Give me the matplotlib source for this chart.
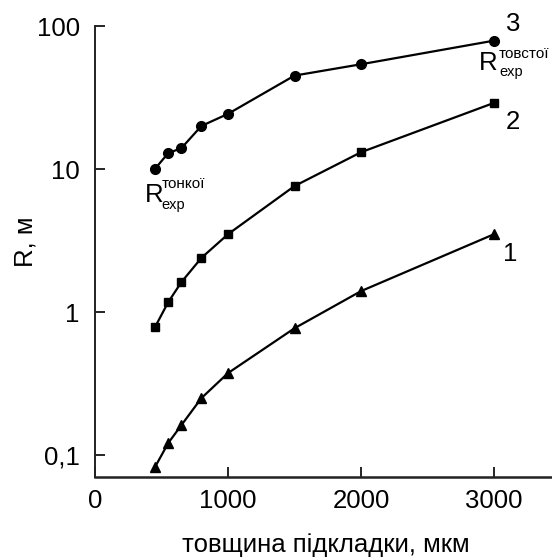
import matplotlib
matplotlib.use("Agg")
import matplotlib.pyplot as plt
from matplotlib.ticker import FixedLocator, NullLocator

plt.rcParams['font.family'] = ['Liberation Sans', 'DejaVu Sans']

x = [450, 550, 650, 800, 1000, 1500, 2000, 3000]
r3 = [10.0, 12.9, 14.0, 20.0, 24.3, 45.0, 54.0, 79.0]
r2 = [0.78, 1.17, 1.62, 2.39, 3.5, 7.6, 13.1, 29.0]
r1 = [0.082, 0.121, 0.162, 0.25, 0.374, 0.77, 1.40, 3.5]

yticks = [0.1, 1, 10, 100]
yticklabels = ['0,1', '1', '10', '100']
xticks = [0, 1000, 2000, 3000]

FS = 18.5
PX = 0.72  # points per pixel at dpi 100

fig = plt.figure(figsize=(5.52, 5.57), dpi=100)
ax = fig.add_axes([95/552, 1-477/557, (552-95)/552, (477-26)/557])

ax.plot(x, r3, '-o', color='black', lw=1.6, ms=7, clip_on=False)
ax.plot(x, r2, '-s', color='black', lw=1.6, ms=5.8, clip_on=False)
ax.plot(x, r1, '-^', color='black', lw=1.6, ms=7.5, clip_on=False)

ax.set_yscale('log')
ax.set_xlim(0, 3436)
ax.set_ylim(0.0702, 100)
ax.yaxis.set_major_locator(FixedLocator(yticks))
ax.yaxis.set_minor_locator(NullLocator())
ax.set_yticklabels(yticklabels)
ax.set_xticks(xticks)
ax.set_xticklabels([str(v) for v in xticks])

for s in ['top', 'right']:
    ax.spines[s].set_visible(False)
ax.spines['left'].set_linewidth(1.4)
ax.spines['bottom'].set_linewidth(1.8)
for s in ['left', 'bottom']:
    ax.spines[s].set_color('#222222')
ax.tick_params(direction='in', length=7, width=1.2, labelsize=FS)
ax.tick_params(axis='y', pad=11)
ax.tick_params(axis='x', pad=9)

ax.set_xlabel('товщина підкладки, мкм', fontsize=FS)
ax.set_ylabel('R, м', fontsize=FS)
ax.xaxis.set_label_coords((325.5-95)/457, (477-533)/451)
ax.yaxis.set_label_coords((37-95)/457, (477-242)/451)

def lbl(xv, yv, dx, dy, s, fs, ha='left', va='baseline'):
    ax.annotate(s, xy=(xv, yv), xytext=(dx*PX, dy*PX), textcoords='offset points',
                fontsize=fs, ha=ha, va=va, annotation_clip=False)

# curve numbers
lbl(x[-1], r3[-1], 19, 17, '3', FS, ha='center', va='center')
lbl(x[-1], r2[-1], 19, -19, '2', FS, ha='center', va='center')
lbl(x[-1], r1[-1], 16, -20, '1', FS, ha='center', va='center')

# R_exp^тонкої near first point of curve 3
lbl(x[0], r3[0], -10, -33, 'R', FS)
lbl(x[0], r3[0], 7, -19, 'тонкої', 11)
lbl(x[0], r3[0], 7, -40, 'exp', 10.5)

# R_exp^товстої near last point of curve 3
lbl(x[-1], r3[-1], -15, -29, 'R', FS)
lbl(x[-1], r3[-1], 5, -17, 'товстої', 11)
lbl(x[-1], r3[-1], 5, -35, 'exp', 10.5)

fig.savefig('out.png', dpi=100)
